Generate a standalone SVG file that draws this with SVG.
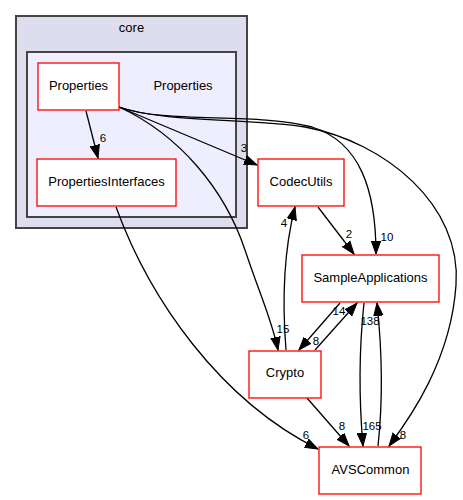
<svg xmlns="http://www.w3.org/2000/svg" width="463" height="500" viewBox="0 0 463 500">
<style>
  .cl-outer { fill: #ddddee; stroke: #444444; stroke-width: 2; }
  .cl-inner { fill: #eeeeff; stroke: #444444; stroke-width: 2; }
  .node rect { fill: #ffffff; stroke: #ff0000; stroke-width: 1.3; }
  text { font-family: "Liberation Sans", Arial, Helvetica, sans-serif; fill: #000000; }
  .nt { font-size: 13px; text-anchor: middle; }
  .el { font-size: 11.5px; text-anchor: middle; }
  .edge { fill: none; stroke: #000000; stroke-width: 1.3; marker-end: url(#arrow); }
</style>
<defs>
  <marker id="arrow" markerUnits="userSpaceOnUse" markerWidth="14" markerHeight="11" refX="13" refY="5" orient="auto" viewBox="0 0 14 10">
    <path d="M0,0.3 L13,5 L0,9.7 z" fill="#000000" stroke="#000000" stroke-width="1"/>
  </marker>
</defs>
<rect width="463" height="500" fill="#ffffff"/>

<g id="cluster_core">
  <rect class="cl-outer" x="16" y="16" width="231" height="212"/>
  <text class="nt" x="131.5" y="31.5">core</text>
</g>
<g id="cluster_Properties">
  <rect class="cl-inner" x="27" y="52" width="209" height="165"/>
  <text class="nt" x="183" y="90">Properties</text>
</g>

<g id="edges">
  <path class="edge" d="M86,111 L98,158"/>
  <text class="el" x="103" y="142">6</text>

  <path class="edge" d="M119,107 L257,165"/>
  <text class="el" x="244" y="152">3</text>

  <path class="edge" d="M119,107 C165,124 255,112 312,127 C360,142 376,190 376,254"/>
  <text class="el" x="387" y="241">10</text>

  <path class="edge" d="M119,107 C165,123 250,118 305,127 C385,142 462,205 456,285 C451,360 410,418 389,446"/>
  <text class="el" x="403" y="439">8</text>

  <path class="edge" d="M119,107 C180,135 225,190 245,250 C260,295 272,320 278,350"/>
  <text class="el" x="283" y="333">15</text>

  <path class="edge" d="M116,207 C150,300 220,400 318,449"/>
  <text class="el" x="306" y="439">6</text>

  <path class="edge" d="M318,207 L354,254"/>
  <text class="el" x="349" y="238">2</text>

  <path class="edge" d="M286,350 C282,300 284,250 295,207"/>
  <text class="el" x="284" y="227">4</text>

  <path class="edge" d="M340,303 L299,350"/>
  <text class="el" x="316" y="345">8</text>

  <path class="edge" d="M315,350 L357,303"/>
  <text class="el" x="339" y="315">14</text>

  <path class="edge" d="M364,303 C359,350 359,400 363,446"/>
  <text class="el" x="372" y="430">165</text>

  <path class="edge" d="M378,446 C383,400 382,350 377,303"/>
  <text class="el" x="370" y="325">138</text>

  <path class="edge" d="M307,398 L349,446"/>
  <text class="el" x="342" y="430">8</text>
</g>

<g id="node_Properties" class="node">
  <rect x="38" y="63" width="81" height="47"/>
  <text class="nt" x="78.5" y="90">Properties</text>
</g>
<g id="node_PropertiesInterfaces" class="node">
  <rect x="37" y="159" width="139" height="47"/>
  <text class="nt" x="106.5" y="186">PropertiesInterfaces</text>
</g>
<g id="node_CodecUtils" class="node">
  <rect x="258" y="159" width="86" height="47"/>
  <text class="nt" x="301" y="186">CodecUtils</text>
</g>
<g id="node_SampleApplications" class="node">
  <rect x="302" y="255" width="137" height="47"/>
  <text class="nt" x="370.5" y="282">SampleApplications</text>
</g>
<g id="node_Crypto" class="node">
  <rect x="249" y="351" width="72" height="47"/>
  <text class="nt" x="285" y="377">Crypto</text>
</g>
<g id="node_AVSCommon" class="node">
  <rect x="319" y="447" width="102" height="47"/>
  <text class="nt" x="370.5" y="474">AVSCommon</text>
</g>
</svg>
